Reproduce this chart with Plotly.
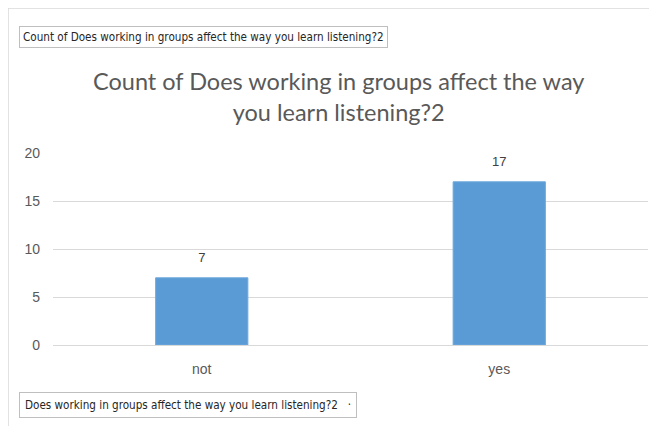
import plotly.graph_objects as go

categories = ["not", "yes"]
counts = [7, 17]
y_ticks = [0, 5, 10, 15, 20]

title_text = "Count of Does working in groups affect the way<br>you learn listening?2"
value_button = "Count of Does working in groups affect the way you learn listening?2"
axis_button = "Does working in groups affect the way you learn listening?2 &nbsp; \u00b7"

# the page body has an 8px margin, so the figure sits at (8, 8) of the window
OFF = 8
W, H = 657 - OFF, 426 - OFF
L, R, T, B = 53 - OFF, 648 - OFF, 153 - OFF, 345 - OFF


def px(x):
    return (x - OFF - L) / (R - L)


def py(y):
    return (B - (y - OFF)) / (B - T)


fig = go.Figure(go.Bar(
    x=categories, y=counts, width=0.31,
    marker=dict(color="#5B9BD5", line=dict(color="#6FA8DC", width=1)),
    hoverinfo="x+y",
))
# data labels sit a little higher than plotly's "outside" text, so draw them as text points
fig.add_scatter(
    x=categories, y=counts, mode="text+markers", text=counts,
    textposition="top center", marker=dict(size=18, opacity=0),
    textfont=dict(size=13, color="#404040", family="Liberation Sans"),
    cliponaxis=False, hoverinfo="skip",
)

fig.update_layout(
    width=W, height=H,
    margin=dict(l=L, r=W - R, t=T, b=H - B),
    paper_bgcolor="white", plot_bgcolor="white",
    showlegend=False,
    font=dict(family="Liberation Sans", color="#595959"),
    xaxis=dict(showline=True, linecolor="#D9D9D9", ticks="",
               tickfont=dict(size=14, color="#595959"), ticklabelstandoff=11),
    yaxis=dict(range=[0, 20], tickvals=y_ticks, gridcolor="#D9D9D9",
               showline=False, zeroline=False, ticks="",
               tickfont=dict(size=14, color="#595959"), ticklabelstandoff=12),
    annotations=[
        dict(text=title_text, x=px(338), y=py(97), xref="paper", yref="paper",
             xanchor="center", yanchor="middle", showarrow=False,
             font=dict(size=23.5, color="#595959", family="Lato")),
        dict(text=value_button, x=px(19), y=py(37), xref="paper", yref="paper",
             xanchor="left", yanchor="middle", showarrow=False,
             bordercolor="#BFBFBF", borderwidth=1, borderpad=3, bgcolor="white",
             font=dict(size=11.6, color="#262626", family="DejaVu Sans Condensed")),
        dict(text=axis_button, x=px(19), y=py(405), xref="paper", yref="paper",
             xanchor="left", yanchor="middle", showarrow=False,
             bordercolor="#BFBFBF", borderwidth=1, borderpad=5, bgcolor="white",
             font=dict(size=11.6, color="#262626", family="DejaVu Sans Condensed")),
    ],
    shapes=[
        dict(type="line", xref="paper", yref="paper", x0=px(8), x1=px(657),
             y0=py(8), y1=py(8), line=dict(color="#D9D9D9", width=1.5)),
        dict(type="line", xref="paper", yref="paper", x0=px(8), x1=px(8),
             y0=py(8), y1=py(426), line=dict(color="#D9D9D9", width=1.5)),
    ],
)

fig.write_html("out.html")
